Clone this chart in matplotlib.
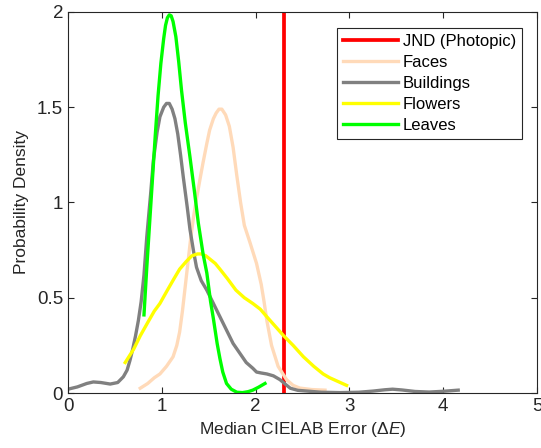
import numpy as np
import matplotlib
matplotlib.use('Agg')
import matplotlib.pyplot as plt

plt.rcParams['font.family'] = ['Liberation Sans', 'DejaVu Sans']
plt.rcParams['mathtext.fontset'] = 'custom'
plt.rcParams['mathtext.rm'] = 'Liberation Sans'
plt.rcParams['mathtext.it'] = 'Liberation Sans:italic'

# JND threshold
jnd_x = 2.3

# Faces density curve
faces_x = [0.77, 0.85, 0.92, 0.98, 1.05, 1.12, 1.16, 1.19, 1.22, 1.25, 1.28, 1.31, 1.34, 1.37,
           1.41, 1.44, 1.48, 1.51, 1.55, 1.58, 1.61, 1.64, 1.68, 1.72, 1.76, 1.80, 1.84, 1.88,
           1.94, 2.01, 2.06, 2.09, 2.12, 2.17, 2.24, 2.33, 2.40, 2.47, 2.60, 2.74]
faces_y = [0.025, 0.05, 0.08, 0.10, 0.14, 0.19, 0.25, 0.32, 0.43, 0.56, 0.69, 0.82, 0.93, 1.02,
           1.13, 1.21, 1.31, 1.38, 1.44, 1.47, 1.49, 1.49, 1.46, 1.40, 1.29, 1.14, 1.00, 0.88,
           0.79, 0.68, 0.57, 0.48, 0.38, 0.25, 0.14, 0.07, 0.04, 0.026, 0.018, 0.015]

# Buildings density curve
buildings_x = [0.00, 0.10, 0.20, 0.27, 0.35, 0.45, 0.53, 0.59, 0.63, 0.66, 0.69, 0.72, 0.75,
               0.78, 0.81, 0.84, 0.88, 0.91, 0.95, 0.98, 1.02, 1.05, 1.08, 1.11, 1.14, 1.17,
               1.20, 1.23, 1.27, 1.30, 1.34, 1.37, 1.42, 1.48, 1.55, 1.62, 1.69, 1.76,
               1.83, 1.90, 1.97, 2.01, 2.06, 2.12, 2.19, 2.26, 2.32, 2.37, 2.45, 2.55, 2.70,
               2.90, 3.10, 3.25, 3.38, 3.46, 3.56, 3.70, 3.85, 4.00, 4.16]
buildings_y = [0.02, 0.032, 0.05, 0.058, 0.055, 0.047, 0.055, 0.085, 0.12, 0.17, 0.23, 0.30, 0.38,
               0.48, 0.62, 0.82, 1.04, 1.22, 1.37, 1.45, 1.50, 1.52, 1.52, 1.49, 1.44, 1.36,
               1.25, 1.13, 0.98, 0.86, 0.74, 0.66, 0.59, 0.54, 0.47, 0.40, 0.33, 0.26,
               0.21, 0.16, 0.13, 0.11, 0.105, 0.10, 0.09, 0.07, 0.045, 0.025, 0.014,
               0.01, 0.004, 0.002, 0.004, 0.01, 0.017, 0.02, 0.016, 0.008, 0.005, 0.009, 0.015]

# Flowers density curve
flowers_x = [0.61, 0.70, 0.77, 0.85, 0.92, 0.98, 1.06, 1.13, 1.19, 1.26, 1.32, 1.38, 1.42, 1.47,
             1.52, 1.57, 1.62, 1.70, 1.79, 1.88, 1.97, 2.05, 2.12, 2.21, 2.30, 2.40, 2.51,
             2.62, 2.72, 2.79, 2.88, 2.97]
flowers_y = [0.16, 0.23, 0.30, 0.37, 0.43, 0.47, 0.54, 0.60, 0.65, 0.69, 0.72, 0.73, 0.73, 0.72,
             0.70, 0.68, 0.65, 0.60, 0.54, 0.50, 0.47, 0.44, 0.40, 0.35, 0.30, 0.25, 0.19,
             0.14, 0.10, 0.08, 0.06, 0.04]

# Leaves density curve
leaves_x = [0.81, 0.84, 0.87, 0.90, 0.93, 0.96, 0.99, 1.02, 1.04, 1.06, 1.08, 1.10, 1.12, 1.15,
            1.18, 1.21, 1.25, 1.30, 1.35, 1.39, 1.44, 1.48, 1.52, 1.55, 1.59, 1.62, 1.65,
            1.69, 1.74, 1.80, 1.86, 1.92, 1.97, 2.03, 2.10]
leaves_y = [0.41, 0.66, 0.89, 1.12, 1.35, 1.56, 1.73, 1.86, 1.93, 1.97, 1.985, 1.98, 1.95, 1.87,
            1.74, 1.59, 1.42, 1.24, 1.05, 0.89, 0.73, 0.63, 0.48, 0.39, 0.26, 0.18, 0.11,
            0.05, 0.02, 0.004, 0.002, 0.007, 0.015, 0.03, 0.05]

fig = plt.figure(figsize=(5.41, 4.48), dpi=100)
ax = fig.add_axes([68 / 541, 55 / 448, 469 / 541, 381 / 448])

lw = 2.4
ax.axvline(jnd_x, color='#FF0000', lw=2.7, label='JND (Photopic)')
ax.plot(faces_x, faces_y, color='#FFDAB9', lw=lw, label='Faces', solid_joinstyle='round')
ax.plot(buildings_x, buildings_y, color='#808080', lw=lw, label='Buildings', solid_joinstyle='round')
ax.plot(flowers_x, flowers_y, color='#FFFF00', lw=lw, label='Flowers', solid_joinstyle='round')
ax.plot(leaves_x, leaves_y, color='#00FF00', lw=lw, label='Leaves', solid_joinstyle='round')

ax.set_xlim(0, 5)
ax.set_ylim(0, 2)
ax.set_xticks([0, 1, 2, 3, 4, 5])
ax.set_yticks([0, 0.5, 1, 1.5, 2])
ax.set_yticklabels(['0', '0.5', '1', '1.5', '2'])
ax.tick_params(direction='in', top=True, right=True, length=4, width=0.8,
               labelsize=13.5, colors='#262626')
for s in ax.spines.values():
    s.set_color('#262626')
    s.set_linewidth(0.8)

ax.set_xlabel('Median CIELAB Error (Δ$\\mathit{E}$)', fontsize=12.5, color='#262626', labelpad=4)
ax.set_ylabel('Probability Density', fontsize=12.5, color='#262626', labelpad=6)

leg = ax.legend(loc='upper right', bbox_to_anchor=(0.968, 0.958), borderaxespad=0,
                fontsize=12, handlelength=3.3, labelspacing=0.36, handletextpad=0.3,
                fancybox=False, framealpha=1, edgecolor='#262626', borderpad=0.35)
leg.get_frame().set_linewidth(0.8)

fig.savefig('out.png', dpi=100)
